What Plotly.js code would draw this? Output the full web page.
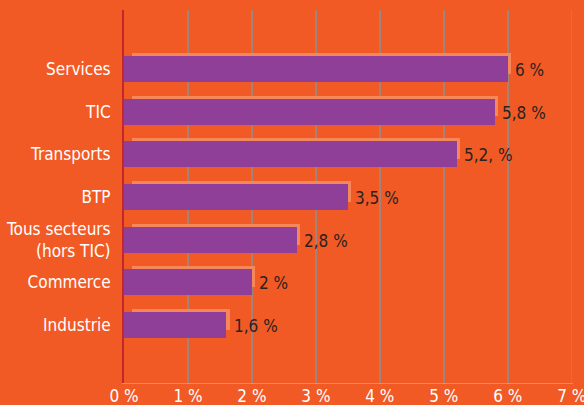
<!DOCTYPE html>
<html>
<head>
<meta charset="utf-8">
<script src="https://cdn.plot.ly/plotly-3.0.1.min.js"></script>
<style>
  html, body { margin: 0; padding: 0; background: #F15A25; }
  #chart { width: 584px; height: 405px; }
</style>
</head>
<body>
<div id="chart"></div>
<script>
const categories = ['Services', 'TIC', 'Transports', 'BTP', 'Tous secteurs<br>(hors TIC)', 'Commerce', 'Industrie'];
const values = [6, 5.8, 5.2, 3.5, 2.7, 2, 1.6];
const valueLabels = ['6 %', '5,8 %', '5,2, %', '3,5 %', '2,8 %', '2 %', '1,6 %'];
const tickVals = [0, 1, 2, 3, 4, 5, 6, 7];
const tickText = ['0 %', '1 %', '2 %', '3 %', '4 %', '5 %', '6 %', '7 %'];

const font = '"DejaVu Sans Condensed", sans-serif';
const shadowStart = 0.125;   // light strip behind each bar starts a bit right of 0
const shadowOver = 0.055;    // and sticks out past the bar end

// light orange strip, a little higher and longer than the bar
const shadow = {
  type: 'bar',
  orientation: 'h',
  y: categories,
  x: values.map(v => v + shadowOver - shadowStart),
  base: shadowStart,
  width: 0.49,
  offset: -0.375,
  marker: { color: '#F6875A', line: { width: 0 } },
  hoverinfo: 'skip'
};

const bars = {
  type: 'bar',
  orientation: 'h',
  y: categories,
  x: values,
  width: 0.61,
  offset: -0.305,
  marker: { color: '#8F3F97', line: { width: 0 } }
};

const annotations = values.map((v, i) => ({
  x: v + shadowOver,
  y: categories[i],
  text: valueLabels[i],
  xanchor: 'left',
  yanchor: 'middle',
  xshift: 2,
  yshift: -1,
  showarrow: false,
  font: { family: font, size: 17, color: '#2b2220', stretch: 'condensed' }
}));

const layout = {
  width: 584,
  height: 405,
  margin: { l: 124, r: 11, t: 10, b: 22 },
  paper_bgcolor: '#F15A25',
  plot_bgcolor: '#F15A25',
  showlegend: false,
  barmode: 'overlay',
  bargap: 0,
  xaxis: {
    range: [0, 7.02],
    tickvals: tickVals,
    ticktext: tickText,
    showgrid: true,
    gridcolor: '#A08479',
    gridwidth: 1.5,
    zeroline: false,
    showline: true,
    linecolor: '#F7941D',
    linewidth: 1,
    ticks: '',
    ticklabelstandoff: -2,
    ticklabeloverflow: 'allow',
    tickfont: { family: font, size: 17, color: '#ffffff', stretch: 'condensed' },
    fixedrange: true
  },
  yaxis: {
    type: 'category',
    categoryorder: 'array',
    categoryarray: categories,
    range: [7.36, -1.38],
    showgrid: false,
    zeroline: false,
    showline: true,
    linecolor: '#C1272D',
    linewidth: 2,
    ticks: '',
    ticklabelstandoff: 8,
    tickfont: { family: font, size: 17, color: '#ffffff', stretch: 'condensed' },
    fixedrange: true
  },
  annotations: annotations
};

Plotly.newPlot('chart', [shadow, bars], layout, { displayModeBar: false, staticPlot: true });
</script>
</body>
</html>
